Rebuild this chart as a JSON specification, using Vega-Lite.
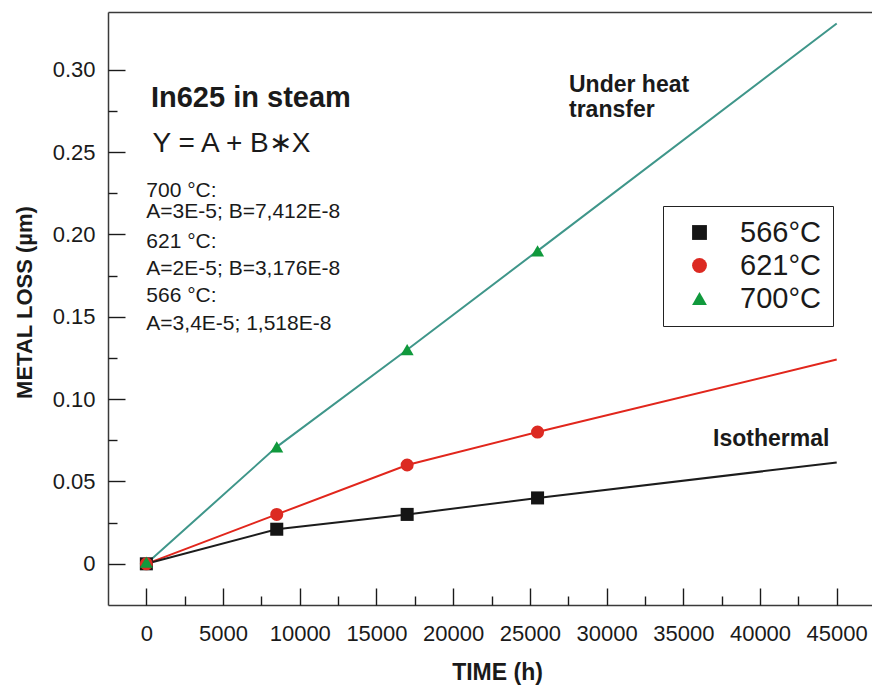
{
  "$schema": "https://vega.github.io/schema/vega-lite/v6.json",
  "width": 764,
  "height": 593,
  "autosize": {"type": "none"},
  "padding": {"left": 108, "top": 12, "right": 0, "bottom": 82},
  "background": "white",
  "config": {
    "font": "Liberation Sans",
    "view": {"stroke": null},
    "axis": {
      "grid": false,
      "domainColor": "#3a3a3a",
      "domainWidth": 1.5,
      "tickColor": "#1a1a1a",
      "tickWidth": 1.4,
      "labelFont": "Liberation Sans",
      "labelColor": "#1a1a1a",
      "titleFont": "Liberation Sans",
      "titleColor": "#1a1a1a"
    }
  },
  "datasets": {
    "curves": [
      {"curve": "700°C", "time": 0, "loss": 0.0},
      {"curve": "700°C", "time": 8500, "loss": 0.071},
      {"curve": "700°C", "time": 17000, "loss": 0.13},
      {"curve": "700°C", "time": 25500, "loss": 0.19},
      {"curve": "700°C", "time": 45000, "loss": 0.328},
      {"curve": "621°C", "time": 0, "loss": 0.0},
      {"curve": "621°C", "time": 8500, "loss": 0.03},
      {"curve": "621°C", "time": 17000, "loss": 0.06},
      {"curve": "621°C", "time": 25500, "loss": 0.08},
      {"curve": "621°C", "time": 45000, "loss": 0.124},
      {"curve": "566°C", "time": 0, "loss": 0.0},
      {"curve": "566°C", "time": 8500, "loss": 0.021},
      {"curve": "566°C", "time": 17000, "loss": 0.03},
      {"curve": "566°C", "time": 25500, "loss": 0.04},
      {"curve": "566°C", "time": 45000, "loss": 0.0615}
    ],
    "measured": [
      {"series": "566°C", "time": 0, "loss": 0.0},
      {"series": "566°C", "time": 8500, "loss": 0.021},
      {"series": "566°C", "time": 17000, "loss": 0.03},
      {"series": "566°C", "time": 25500, "loss": 0.04},
      {"series": "621°C", "time": 0, "loss": 0.0},
      {"series": "621°C", "time": 8500, "loss": 0.03},
      {"series": "621°C", "time": 17000, "loss": 0.06},
      {"series": "621°C", "time": 25500, "loss": 0.08},
      {"series": "700°C", "time": 0, "loss": 0.001},
      {"series": "700°C", "time": 8500, "loss": 0.071},
      {"series": "700°C", "time": 17000, "loss": 0.13},
      {"series": "700°C", "time": 25500, "loss": 0.19}
    ],
    "heading": [
      {"time": 300, "loss": 0.2773, "label": "In625 in steam"}
    ],
    "formula": [
      {"time": 400, "loss": 0.2502, "label": "Y = A + B∗X"}
    ],
    "params": [
      {"time": 0, "loss": 0.2227, "label": "700 °C:"},
      {"time": 0, "loss": 0.2097, "label": "A=3E-5; B=7,412E-8"},
      {"time": 0, "loss": 0.1915, "label": "621 °C:"},
      {"time": 0, "loss": 0.1753, "label": "A=2E-5; B=3,176E-8"},
      {"time": 0, "loss": 0.1591, "label": "566 °C:"},
      {"time": 0, "loss": 0.1419, "label": "A=3,4E-5; 1,518E-8"}
    ],
    "curveNotes": [
      {"time": 27550, "loss": 0.2864, "label": "Under heat"},
      {"time": 27550, "loss": 0.2712, "label": "transfer"},
      {"time": 36940, "loss": 0.0715, "label": "Isothermal"}
    ]
  },
  "resolve": {
    "axis": {"x": "independent", "y": "independent"}
  },
  "layer": [
    {
      "data": {"name": "curves"},
      "mark": {"type": "line", "strokeWidth": 2, "clip": true},
      "encoding": {
        "x": {
          "field": "time",
          "type": "quantitative",
          "scale": {"domain": [-2500, 47300], "nice": false, "zero": false},
          "axis": {
            "orient": "bottom",
            "values": [0, 5000, 10000, 15000, 20000, 25000, 30000, 35000, 40000, 45000],
            "format": "d",
            "ticks": false,
            "tickSize": 0,
            "labelPadding": 18,
            "labelFontSize": 22,
            "title": "TIME (h)",
            "titleFontSize": 23,
            "titleFontWeight": "bold",
            "titlePadding": 17,
            "titleX": 389
          }
        },
        "y": {
          "field": "loss",
          "type": "quantitative",
          "scale": {"domain": [-0.025, 0.335], "nice": false, "zero": false},
          "axis": {
            "orient": "left",
            "values": [0, 0.05, 0.1, 0.15, 0.2, 0.25, 0.3],
            "labelExpr": "datum.value == 0 ? '0' : format(datum.value, '.2f')",
            "ticks": false,
            "tickSize": 0,
            "labelPadding": 13,
            "labelFontSize": 22,
            "title": "METAL LOSS (µm)",
            "titleFontSize": 22,
            "titleFontWeight": "bold",
            "titlePadding": 16,
            "titleY": 290
          }
        },
        "stroke": {
          "field": "curve",
          "type": "nominal",
          "scale": {"range": ["#1c1c1c", "#e1261c", "#3f968a"]},
          "legend": null
        }
      }
    },
    {
      "data": {"name": "measured"},
      "mark": {"type": "point", "filled": true, "size": 170, "opacity": 1},
      "encoding": {
        "x": {
          "field": "time",
          "type": "quantitative",
          "scale": {"domain": [-2500, 47300], "nice": false, "zero": false},
          "axis": {
            "orient": "bottom",
            "values": [2500, 7500, 12500, 17500, 22500, 27500, 32500, 37500, 42500],
            "offset": -9,
            "tickSize": 9,
            "labels": false,
            "domain": false,
            "title": null
          }
        },
        "y": {
          "field": "loss",
          "type": "quantitative",
          "scale": {"domain": [-0.025, 0.335], "nice": false, "zero": false},
          "axis": {
            "orient": "left",
            "values": [0.025, 0.075, 0.125, 0.175, 0.225, 0.275],
            "offset": -9,
            "tickSize": 9,
            "labels": false,
            "domain": false,
            "title": null
          }
        },
        "shape": {
          "field": "series",
          "type": "nominal",
          "scale": {"domain": ["566°C", "621°C", "700°C"], "range": ["square", "circle", "triangle-up"]},
          "legend": {
            "title": null,
            "orient": "none",
            "legendX": 555,
            "legendY": 194,
            "labelFontSize": 29,
            "labelFont": "Liberation Sans",
            "labelColor": "#1a1a1a",
            "symbolSize": 220,
            "padding": 12,
            "strokeColor": "#222222",
            "fillColor": "white",
            "rowPadding": 3,
            "symbolOffset": 10,
            "labelOffset": 26,
            "symbolStrokeWidth": 0
          }
        },
        "color": {
          "field": "series",
          "type": "nominal",
          "scale": {"domain": ["566°C", "621°C", "700°C"], "range": ["#151515", "#dc2a22", "#10993c"]},
          "legend": {
            "title": null,
            "orient": "none",
            "legendX": 555,
            "legendY": 194,
            "labelFontSize": 29,
            "labelFont": "Liberation Sans",
            "labelColor": "#1a1a1a",
            "symbolSize": 220,
            "padding": 12,
            "strokeColor": "#222222",
            "fillColor": "white",
            "rowPadding": 3,
            "symbolOffset": 10,
            "labelOffset": 26,
            "symbolStrokeWidth": 0
          }
        }
      }
    },
    {
      "data": {"name": "heading"},
      "mark": {"type": "text", "align": "left", "baseline": "alphabetic", "fontSize": 29, "fontWeight": "bold", "color": "#1a1a1a"},
      "encoding": {
        "x": {
          "field": "time",
          "type": "quantitative",
          "scale": {"domain": [-2500, 47300], "nice": false, "zero": false},
          "axis": {"orient": "top", "ticks": false, "labels": false, "domain": true, "title": null}
        },
        "y": {
          "field": "loss",
          "type": "quantitative",
          "scale": {"domain": [-0.025, 0.335], "nice": false, "zero": false},
          "axis": null
        },
        "text": {"field": "label"}
      }
    },
    {
      "data": {"name": "formula"},
      "mark": {"type": "text", "align": "left", "baseline": "alphabetic", "fontSize": 28, "color": "#1a1a1a"},
      "encoding": {
        "x": {
          "field": "time",
          "type": "quantitative",
          "scale": {"domain": [-2500, 47300], "nice": false, "zero": false},
          "axis": {
            "orient": "bottom",
            "values": [0, 5000, 10000, 15000, 20000, 25000, 30000, 35000, 40000, 45000],
            "offset": -17,
            "tickSize": 17,
            "labels": false,
            "domain": false,
            "title": null
          }
        },
        "y": {
          "field": "loss",
          "type": "quantitative",
          "scale": {"domain": [-0.025, 0.335], "nice": false, "zero": false},
          "axis": {
            "orient": "left",
            "values": [0, 0.05, 0.1, 0.15, 0.2, 0.25, 0.3],
            "offset": -17,
            "tickSize": 17,
            "labels": false,
            "domain": false,
            "title": null
          }
        },
        "text": {"field": "label"}
      }
    },
    {
      "data": {"name": "params"},
      "mark": {"type": "text", "align": "left", "baseline": "alphabetic", "fontSize": 21, "color": "#1a1a1a"},
      "encoding": {
        "x": {"field": "time", "type": "quantitative", "axis": null},
        "y": {"field": "loss", "type": "quantitative", "axis": null},
        "text": {"field": "label"}
      }
    },
    {
      "data": {"name": "curveNotes"},
      "mark": {"type": "text", "align": "left", "baseline": "alphabetic", "fontSize": 23, "fontWeight": "bold", "color": "#1a1a1a"},
      "encoding": {
        "x": {"field": "time", "type": "quantitative", "axis": null},
        "y": {"field": "loss", "type": "quantitative", "axis": null},
        "text": {"field": "label"}
      }
    }
  ]
}
